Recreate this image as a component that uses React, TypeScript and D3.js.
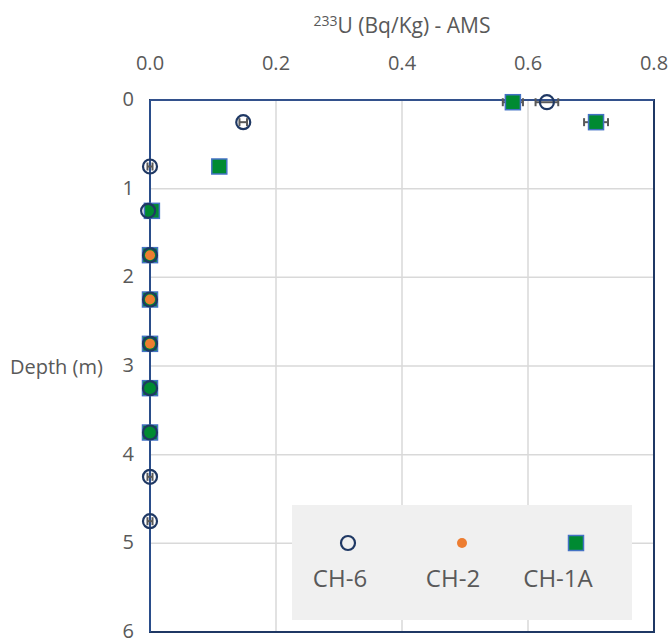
import React, { useEffect, useRef } from "react";
import * as d3 from "d3";

// depth (m) and 233U activity (Bq/Kg) per core
const ch6Depths = [0.025, 0.25, 0.75, 1.25, 1.75, 2.25, 2.75, 3.25, 3.75, 4.25, 4.75];
const ch6Values = [0.63, 0.148, 0, -0.003, 0, 0, 0, 0, 0, 0, 0];
const ch6Errors = [0.018, 0.006, 0.004, 0.003, 0.003, 0.003, 0.003, 0.003, 0.003, 0.004, 0.004];

const ch2Depths = [1.75, 2.25, 2.75];
const ch2Values = [0, 0, 0];

const ch1aDepths = [0.025, 0.25, 0.75, 1.25, 1.75, 2.25, 2.75, 3.25, 3.75];
const ch1aValues = [0.576, 0.708, 0.11, 0.003, 0, 0, 0, 0, 0];
const ch1aErrors = [0.016, 0.019, 0.004, 0.003, 0.003, 0.003, 0.003, 0.003, 0.003];

const xTicks = [0, 0.2, 0.4, 0.6, 0.8];
const yTicks = [0, 1, 2, 3, 4, 5, 6];
const legendLabels = ["CH-6", "CH-2", "CH-1A"];

const W = 671;
const H = 641;
const FONT = "'Open Sans', sans-serif";
const TEXT = "#595959";
const NAVY = "#1f3864";
const ORANGE = "#ed7d31";
const GREEN = "#008a32";
const BLUE = "#4472c4";

const Chart = () => {
  const svgRef = useRef<SVGSVGElement | null>(null);

  useEffect(() => {
    if (svgRef.current) draw();
  }, []);

  const draw = () => {
    const svg = d3.select(svgRef.current);
    svg.selectAll("*").remove();

    const x = d3.scaleLinear().domain([0, 0.8]).range([150, 654]);
    const y = d3.scaleLinear().domain([0, 6]).range([100, 632]);

    // gridlines
    svg
      .append("g")
      .selectAll("line")
      .data(xTicks.slice(1, -1))
      .enter()
      .append("line")
      .attr("x1", (d) => x(d))
      .attr("x2", (d) => x(d))
      .attr("y1", y(0))
      .attr("y2", y(6))
      .attr("stroke", "#d9d9d9")
      .attr("stroke-width", 1.5);

    svg
      .append("g")
      .selectAll("line")
      .data(yTicks.slice(1, -1))
      .enter()
      .append("line")
      .attr("x1", x(0))
      .attr("x2", x(0.8))
      .attr("y1", (d) => y(d))
      .attr("y2", (d) => y(d))
      .attr("stroke", "#d9d9d9")
      .attr("stroke-width", 1.5);

    // plot border
    svg
      .append("rect")
      .attr("x", x(0))
      .attr("y", y(0))
      .attr("width", x(0.8) - x(0))
      .attr("height", y(6) - y(0))
      .attr("fill", "none")
      .attr("stroke", NAVY)
      .attr("stroke-width", 2);

    // top edge a bit lighter
    svg
      .append("line")
      .attr("x1", x(0))
      .attr("x2", x(0.8))
      .attr("y1", y(0))
      .attr("y2", y(0))
      .attr("stroke", "#3b5a9a")
      .attr("stroke-width", 1.5);

    // y axis line at x = 0
    svg
      .append("line")
      .attr("x1", x(0))
      .attr("x2", x(0))
      .attr("y1", y(0))
      .attr("y2", y(6))
      .attr("stroke", "#2f5597")
      .attr("stroke-width", 1.5);

    // legend box
    svg
      .append("rect")
      .attr("x", 292)
      .attr("y", 505)
      .attr("width", 340)
      .attr("height", 115)
      .attr("fill", "#f0f0f0");

    // tick labels
    svg
      .append("g")
      .selectAll("text")
      .data(xTicks)
      .enter()
      .append("text")
      .attr("x", (d) => x(d))
      .attr("y", 70)
      .attr("text-anchor", "middle")
      .attr("font-family", FONT)
      .attr("font-size", 20)
      .attr("fill", TEXT)
      .text((d) => d3.format(".1f")(d));

    svg
      .append("g")
      .selectAll("text")
      .data(yTicks)
      .enter()
      .append("text")
      .attr("x", 134)
      .attr("y", (d) => y(d) + 6)
      .attr("text-anchor", "end")
      .attr("font-family", FONT)
      .attr("font-size", 20)
      .attr("fill", TEXT)
      .text((d) => d);

    // axis titles
    const title = svg
      .append("text")
      .attr("x", (x(0) + x(0.8)) / 2)
      .attr("y", 33)
      .attr("text-anchor", "middle")
      .attr("font-family", FONT)
      .attr("font-size", 21)
      .attr("fill", TEXT);
    title.append("tspan").attr("font-size", 14).attr("dy", -7).text("233");
    title.append("tspan").attr("dy", 7).text("U (Bq/Kg) - AMS");

    svg
      .append("text")
      .attr("x", 10)
      .attr("y", 374)
      .attr("font-family", FONT)
      .attr("font-size", 20)
      .attr("fill", TEXT)
      .text("Depth (m)");

    // error bars
    const errorBars = (depths, values, errors) => {
      const g = svg.append("g").attr("stroke", "#595959").attr("stroke-width", 2);
      depths.forEach((dep, i) => {
        const cy = y(dep);
        const lo = x(values[i] - errors[i]);
        const hi = x(values[i] + errors[i]);
        g.append("line").attr("x1", lo).attr("x2", hi).attr("y1", cy).attr("y2", cy);
        g.append("line").attr("x1", lo).attr("x2", lo).attr("y1", cy - 4).attr("y2", cy + 4);
        g.append("line").attr("x1", hi).attr("x2", hi).attr("y1", cy - 4).attr("y2", cy + 4);
      });
    };
    errorBars(ch1aDepths, ch1aValues, ch1aErrors);
    errorBars(ch6Depths, ch6Values, ch6Errors);

    // CH-1A squares
    svg
      .append("g")
      .selectAll("rect")
      .data(ch1aDepths)
      .enter()
      .append("rect")
      .attr("x", (d, i) => x(ch1aValues[i]) - 7.5)
      .attr("y", (d) => y(d) - 7.5)
      .attr("width", 15)
      .attr("height", 15)
      .attr("fill", GREEN)
      .attr("stroke", BLUE)
      .attr("stroke-width", 1.5);

    // CH-6 open circles
    svg
      .append("g")
      .selectAll("circle")
      .data(ch6Depths)
      .enter()
      .append("circle")
      .attr("cx", (d, i) => x(ch6Values[i]))
      .attr("cy", (d) => y(d))
      .attr("r", 7)
      .attr("fill", "none")
      .attr("stroke", NAVY)
      .attr("stroke-width", 2.2);

    // CH-2 dots
    svg
      .append("g")
      .selectAll("circle")
      .data(ch2Depths)
      .enter()
      .append("circle")
      .attr("cx", (d, i) => x(ch2Values[i]))
      .attr("cy", (d) => y(d))
      .attr("r", 5)
      .attr("fill", ORANGE);

    // legend
    const legendX = [348, 462, 576];
    const labelX = [340, 453, 558];
    const lg = svg.append("g");
    lg.append("circle")
      .attr("cx", legendX[0])
      .attr("cy", 543)
      .attr("r", 7)
      .attr("fill", "none")
      .attr("stroke", NAVY)
      .attr("stroke-width", 2.2);
    lg.append("circle").attr("cx", legendX[1]).attr("cy", 543).attr("r", 5).attr("fill", ORANGE);
    lg.append("rect")
      .attr("x", legendX[2] - 7.5)
      .attr("y", 535.5)
      .attr("width", 15)
      .attr("height", 15)
      .attr("fill", GREEN)
      .attr("stroke", BLUE)
      .attr("stroke-width", 1.5);

    lg.selectAll("text")
      .data(legendLabels)
      .enter()
      .append("text")
      .attr("x", (d, i) => labelX[i])
      .attr("y", 587)
      .attr("text-anchor", "middle")
      .attr("font-family", FONT)
      .attr("font-size", 24)
      .attr("fill", TEXT)
      .text((d) => d);
  };

  return (
    <svg
      ref={svgRef}
      width={W}
      height={H}
      style={{ position: "absolute", left: 0, top: 0, background: "#fff" }}
    />
  );
};

export default function App() {
  return <Chart />;
}
